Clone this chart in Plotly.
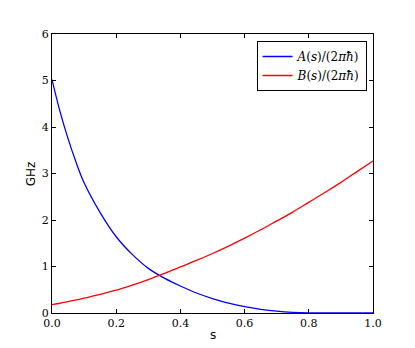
import plotly.graph_objects as go

# data
s = [0.0, 0.025, 0.05, 0.075, 0.1, 0.15, 0.2, 0.25, 0.3, 0.35, 0.4, 0.45, 0.5,
     0.55, 0.6, 0.65, 0.7, 0.75, 0.8, 0.85, 0.9, 0.95, 1.0]
a_vals = [5.02, 4.33, 3.75, 3.24, 2.80, 2.16, 1.64, 1.26, 0.96, 0.75, 0.58, 0.43, 0.31,
          0.21, 0.135, 0.08, 0.04, 0.015, 0.003, 0.0, 0.0, 0.0, 0.0]
b_vals = [0.18, 0.21, 0.245, 0.28, 0.32, 0.40, 0.49, 0.60, 0.72, 0.85, 0.99, 1.13, 1.28,
          1.44, 1.61, 1.79, 1.98, 2.17, 2.38, 2.59, 2.81, 3.04, 3.27]
x_ticks = [0.0, 0.2, 0.4, 0.6, 0.8, 1.0]
x_labels = ["0.0", "0.2", "0.4", "0.6", "0.8", "1.0"]
y_ticks = [0, 1, 2, 3, 4, 5, 6]

SERIF = "DejaVu Serif, serif"
SANS = "DejaVu Sans, sans-serif"

fig = go.Figure()
fig.add_trace(go.Scatter(
    x=s, y=a_vals, mode="lines", line=dict(color="#0000ff", width=1.3, shape="spline"),
    name="<i>A</i>(<i>s</i>)/(2<i>π</i><i>ħ</i>)"
))
fig.add_trace(go.Scatter(
    x=s, y=b_vals, mode="lines", line=dict(color="#ff0000", width=1.3, shape="spline"),
    name="<i>B</i>(<i>s</i>)/(2<i>π</i><i>ħ</i>)"
))

axis_style = dict(
    showgrid=False, zeroline=False, showline=True, linecolor="#000000", linewidth=1.2,
    mirror="ticks", ticks="inside", ticklen=4, tickcolor="#000000", tickwidth=1,
    tickfont=dict(family=SERIF, size=11, color="#000000"),
    automargin=False,
)

fig.update_layout(
    width=415, height=348,
    template="simple_white",
    paper_bgcolor="white", plot_bgcolor="white",
    margin=dict(l=52, r=42, t=34, b=35),
    showlegend=True,
    legend=dict(
        x=0.98, y=0.975, xanchor="right", yanchor="top",
        bgcolor="white", bordercolor="#000000", borderwidth=1,
        font=dict(family=SERIF, size=12, color="#000000"),
        tracegroupgap=0, itemwidth=30,
    ),
    xaxis=dict(range=[0, 1], tickvals=x_ticks, ticktext=x_labels, **axis_style),
    yaxis=dict(range=[0, 6], tickvals=y_ticks, **axis_style),
)

# axis titles placed by hand (standoff is ignored without automargin)
title_font = dict(family=SANS, size=12, color="#000000")
fig.add_annotation(text="s", xref="paper", yref="paper", x=0.5, y=-0.079,
                   showarrow=False, font=title_font, yanchor="middle")
fig.add_annotation(text="GHz", xref="paper", yref="paper", x=-0.066, y=0.5,
                   showarrow=False, font=title_font, textangle=-90, xanchor="center")

# page body has a default 8px margin; drop it so the figure sits at 0,0
fig.write_html("out.html", config={"displayModeBar": False},
               post_script="document.body.style.margin='0';")
